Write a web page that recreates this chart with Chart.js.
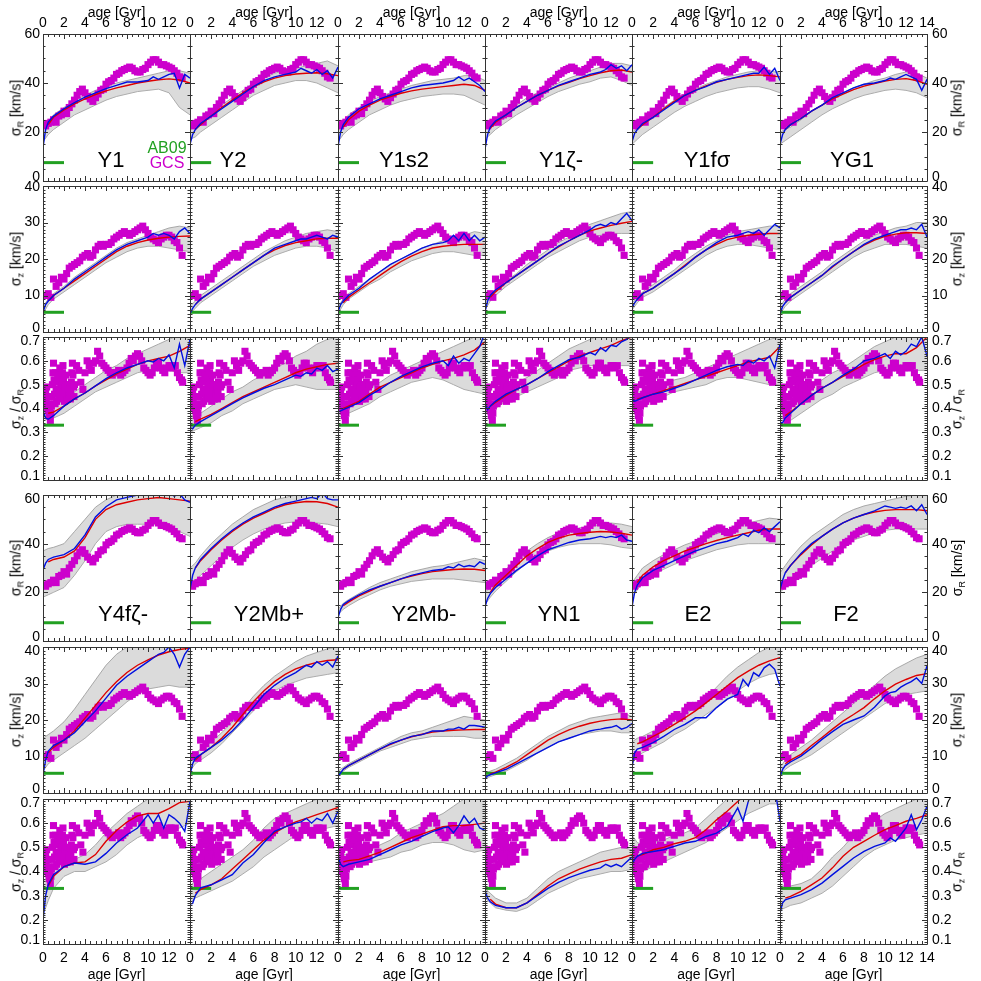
<!DOCTYPE html>
<html><head><meta charset="utf-8">
<script src="https://cdn.jsdelivr.net/npm/chart.js@4.4.0/dist/chart.umd.min.js"></script>
<style>
html,body{margin:0;padding:0;background:#fff;overflow:hidden;width:981px;height:981px;}
#wrap{position:relative;width:981px;height:981px;overflow:hidden;}
canvas{position:absolute;}
.t{position:absolute;font-family:"Liberation Sans",Arial,Helvetica,sans-serif;color:#000;white-space:nowrap;line-height:1;transform:translate(-50%,-50%);}
.rot{transform:translate(-50%,-50%) rotate(-90deg);}
.t sub{font-size:9px;vertical-align:-3px;}
</style></head>
<body><div id="wrap"></div>
<script>
// ---------------- DATA ----------------
const AGES = [0,0.5,1,2,3,4,5,6,7,8,9,10,11,12,13,14];
const BLUE_AGES = [0,0.25,0.5,1,2,3,4,5,6,7,8,9,10,10.5,11,11.5,12,12.5,13,13.5,14];
const X_TICKS = [0,2,4,6,8,10,12,14];
const Y_TICKS_SR = [0,20,40,60];
const Y_TICKS_SZ = [0,10,20,30,40];
const Y_TICKS_Q = [0.1,0.2,0.3,0.4,0.5,0.6,0.7];
const MODELS_TOP = ['Y1','Y2','Y1s2','Y1ζ-','Y1fσ','YG1'];
const MODELS_BOTTOM = ['Y4fζ-','Y2Mb+','Y2Mb-','YN1','E2','F2'];
const AB09_AGES = [0,2];
const AB09_VALUES = [7.5,5.4,0.33]; // sigma_R, sigma_z, ratio

const GCS_AGES = [0,0.25,0.5,0.75,1,1.25,1.5,1.75,2,2.25,2.5,2.75,3,3.25,3.5,3.75,4,4.25,4.5,4.75,5,5.25,5.5,5.75,6,6.25,6.5,6.75,7,7.25,7.5,7.75,8,8.25,8.5,8.75,9,9.25,9.5,9.75,10,10.25,10.5,10.75,11,11.25,11.5,11.75,12,12.25,12.5,12.75,13,13.25];
const GCS_SIGMA_R = [23,22.5,23.5,24,25,24,26.5,27,28.5,27.5,30,31.5,33,35,36.5,37.5,36,34.5,33.5,32.5,34,35.5,37,37.5,39.5,40.5,41,42,43.5,44,45,45.5,46,46.5,46,45,44.5,44.5,45.5,46,47.5,48.5,49.5,49.5,48.5,47.5,47.5,47,46.5,46,45,44,42.5,42];
const GCS_SIGMA_Z = [10,10,10.5,9.5,14.5,12.5,13.5,15,14.5,16,17.5,18,18.5,19,19.5,20.5,21,21.5,20.5,21,22.5,23.5,24,23.5,24,24,24.5,25.5,26,26.5,27,27.5,27,26.5,27,27.5,28,28.5,29,28,27,26,25.5,25,24.5,25.5,26,26.5,26.5,26,25,24.5,23,21];
const GCS_RATIO_AGES = [0,0.05,0.1,0.15,0.2,0.25,0.3,0.35,0.4,0.45,0.5,0.55,0.6,0.65,0.7,0.75,0.8,0.85,0.9,0.95,1.0,1.05,1.1,1.15,1.2,1.25,1.3,1.35,1.4,1.45,1.5,1.55,1.6,1.65,1.7,1.75,1.8,1.85,1.9,1.95,2.0,2.05,2.1,2.15,2.2,2.25,2.3,2.35,2.4,2.45,2.5,2.55,2.6,2.65,2.7,2.75,2.8,2.85,2.9,2.95,3.0,3.2,3.4,3.6,3.8,4.0,4.2,4.4,4.6,4.8,5.0,5.2,5.4,5.6,5.8,6.0,6.2,6.4,6.6,6.8,7.0,7.2,7.4,7.6,7.8,8.0,8.2,8.4,8.6,8.8,9.0,9.2,9.4,9.6,9.8,10.0,10.2,10.4,10.6,10.8,11.0,11.2,11.4,11.6,11.8,12.0,12.2,12.4,12.6,12.8,13.0,13.2,13.3];
const GCS_RATIO = [0.44,0.48,0.41,0.46,0.40,0.47,0.43,0.49,0.41,0.45,0.39,0.42,0.37,0.40,0.35,0.38,0.41,0.45,0.50,0.55,0.59,0.52,0.46,0.42,0.55,0.48,0.43,0.51,0.54,0.47,0.44,0.52,0.57,0.53,0.49,0.45,0.50,0.55,0.58,0.52,0.47,0.43,0.49,0.54,0.50,0.46,0.44,0.48,0.50,0.46,0.45,0.48,0.44,0.47,0.51,0.55,0.59,0.54,0.49,0.45,0.50,0.58,0.56,0.51,0.48,0.55,0.60,0.58,0.56,0.59,0.60,0.64,0.62,0.59,0.58,0.57,0.56,0.55,0.54,0.55,0.55,0.56,0.54,0.55,0.56,0.57,0.59,0.61,0.60,0.62,0.63,0.62,0.60,0.57,0.56,0.55,0.54,0.55,0.57,0.59,0.59,0.57,0.56,0.55,0.57,0.58,0.58,0.57,0.58,0.55,0.53,0.52,0.51];

// --- Y1 ---
const Y1_sR_red  = [null,23,26,29,31.5,33.5,35.3,36.8,38,39,40,40.7,41.3,41.7,41.2,40];
const Y1_sR_blue = [13.7,21,24,26.5,29.5,32,34.2,36,37.7,39,40.4,40.4,41,42.5,41.5,42.5,43.5,44,38,43.5,42];
const Y1_sR_lo   = [16,19,21,24,27,29,31,33,34.5,35.5,36.5,37,37.5,36,30,27];
const Y1_sR_hi   = [21,24,27,30,33,35,37,38.5,40,41,42,43,44,45,45,44];
const Y1_sZ_red  = [null,8.5,10,12,14,16,18,20,22,23.5,24.5,25.2,25.7,26,26.2,26.3];
const Y1_sZ_blue = [5.5,7.5,8.5,10,12,14.5,16.5,18.5,20.5,22.5,24,25,26,27,26.5,27,26.5,25.5,27.5,28.5,27];
const Y1_sZ_lo   = [5,7.5,9,11,13,15,17,19,20.5,22,23,23.5,23.5,23,22.5,22];
const Y1_sZ_hi   = [7,9,10.5,12.5,15,17,19,21,23,24.5,25.5,26.5,27.5,28.5,29,28.5];
const Y1_q_red   = [null,0.38,0.385,0.41,0.44,0.465,0.495,0.52,0.545,0.565,0.585,0.60,0.61,0.62,0.64,0.665];
const Y1_q_blue  = [0.39,0.36,0.355,0.37,0.41,0.44,0.465,0.495,0.525,0.55,0.57,0.585,0.60,0.595,0.61,0.60,0.625,0.57,0.67,0.58,0.69];
const Y1_q_lo    = [0.36,0.35,0.36,0.38,0.41,0.44,0.47,0.49,0.51,0.53,0.55,0.56,0.56,0.56,0.55,0.55];
const Y1_q_hi    = [0.42,0.40,0.41,0.44,0.47,0.50,0.53,0.56,0.58,0.61,0.63,0.65,0.67,0.69,0.71,0.72];
// --- Y2 ---
const Y2_sR_red  = [null,21,23,26.5,30,33,36,38.5,40.5,42,43,43.7,44,44.2,43.8,43];
const Y2_sR_blue = [15,19,21,23.5,26.5,29.5,32.5,35.5,38.5,41,42.5,43.5,44.5,46,45,44,45.5,43.5,45,42,46.5];
const Y2_sR_lo   = [17,18,20,23,26,29,32,35,37,39,40,41,41,40,38,36];
const Y2_sR_hi   = [21,22,24,28,31,34,37,40,42,44,45,46,47,48,49,47];
const Y2_sZ_red  = [null,7.5,9,11,13,15,17,19,21,22.5,23.7,24.5,25,25.5,25.7,25.7];
const Y2_sZ_blue = [5,6.5,7.5,9,11,13,15,17,19,21,23,24,25,25.5,25.5,26,26.5,26,25.5,26.5,26];
const Y2_sZ_lo   = [5,6.5,8,10,12,14,16,18,19.5,21,22,23,23.5,23.5,23,22];
const Y2_sZ_hi   = [7,8.5,10,12,14,16,18,20,22,23.5,25,26,27,27.5,28,27.5];
const Y2_q_red   = [null,0.345,0.355,0.375,0.40,0.425,0.45,0.47,0.49,0.51,0.53,0.55,0.565,0.575,0.585,0.59];
const Y2_q_blue  = [0.32,0.315,0.33,0.345,0.37,0.395,0.42,0.445,0.465,0.485,0.50,0.52,0.54,0.535,0.55,0.545,0.57,0.56,0.58,0.555,0.565];
const Y2_q_lo    = [0.30,0.31,0.32,0.34,0.37,0.39,0.42,0.44,0.46,0.48,0.49,0.50,0.49,0.48,0.48,0.48];
const Y2_q_hi    = [0.37,0.37,0.38,0.41,0.44,0.47,0.49,0.52,0.54,0.57,0.59,0.62,0.64,0.67,0.69,0.70];
// --- Y1s2 ---
const Y1s2_sR_red  = [null,22,25,28.5,31,33,34.5,35.8,36.8,37.5,38,38.5,39,39.5,39,37];
const Y1s2_sR_blue = [14,20,23,26,29.5,31.5,33.5,35,36.5,38,39,39.5,40,40.5,41,42.5,41,42,40.5,39,36.5];
const Y1s2_sR_lo   = [16,19,21,24,27,29,31,32.5,33.5,34.5,35,35.5,35.5,35,33,31];
const Y1s2_sR_hi   = [21,24,27,30,32.5,34.5,36,37.5,39,40,41,41.5,42,43,43,41];
const Y1s2_sZ_red  = [null,8,9.5,11.5,13.5,15.5,17.5,19.3,20.8,22,23,23.5,23.8,24,24,24];
const Y1s2_sZ_blue = [5.5,7.5,8.5,10,12,14.5,16.5,18.5,20,21.5,23,24,24.5,25,26.5,25,27,25,26.5,25,26];
const Y1s2_sZ_lo   = [5,7.5,9,11,13,14.5,16.5,18,19.5,20.5,21.5,22,22,21.5,21,21];
const Y1s2_sZ_hi   = [7,9,10.5,12.5,14.5,16.5,18.5,20,21.5,23,24,25,25.5,26.5,27.5,27];
const Y1s2_q_red   = [null,0.40,0.41,0.43,0.46,0.49,0.51,0.53,0.55,0.57,0.585,0.60,0.61,0.625,0.645,0.68];
const Y1s2_q_blue  = [0.385,0.39,0.395,0.405,0.425,0.455,0.48,0.51,0.535,0.555,0.575,0.59,0.60,0.58,0.62,0.59,0.61,0.60,0.63,0.66,0.72];
const Y1s2_q_lo    = [0.37,0.38,0.38,0.40,0.42,0.45,0.47,0.49,0.51,0.52,0.53,0.52,0.50,0.48,0.47,0.46];
const Y1s2_q_hi    = [0.42,0.42,0.43,0.45,0.48,0.51,0.54,0.56,0.58,0.60,0.62,0.64,0.66,0.68,0.70,0.72];
// --- Y1ζ- ---
const Y1z_sR_red  = [null,21.5,24,27,30,32.5,35,37,38.8,40.3,41.8,43,44.2,45,45.3,44.5];
const Y1z_sR_blue = [13,19,22,24.5,27,30,32.5,35,37,39,40.5,42,43.5,44,44.5,45.5,47.5,46,47,45,47.5];
const Y1z_sR_lo   = [17,19,21,24,27,29.5,32,34.5,36.5,38,39.5,40.5,42,42.5,41,39];
const Y1z_sR_hi   = [21,23,25,28,31,34,36,38,40,42,43.5,45,46.5,48,48,47];
const Y1z_sZ_red  = [null,9.5,11,13.5,15.5,17.5,19.5,21.5,23.3,25,26.5,27.7,28.5,29.2,29.8,30.3];
const Y1z_sZ_blue = [5.5,8.5,10,11.5,13.5,15.5,17.5,19.5,21.5,23.5,25,26.5,28,29,29.5,29,30,29.5,31,32.5,30.5];
const Y1z_sZ_lo   = [6,8.5,10,12.5,14.5,16.5,18.5,20.5,22,23.5,25,26,26.5,27,27,27];
const Y1z_sZ_hi   = [8,10,11.5,14,16,18.5,20.5,22.5,24.5,26,28,29.5,30.5,31.5,32.5,33];
const Y1z_q_red   = [null,0.41,0.425,0.455,0.48,0.50,0.525,0.55,0.575,0.60,0.62,0.635,0.65,0.665,0.685,0.70];
const Y1z_q_blue  = [0.42,0.395,0.41,0.43,0.46,0.48,0.50,0.525,0.555,0.58,0.605,0.615,0.635,0.625,0.655,0.64,0.665,0.66,0.68,0.69,0.71];
const Y1z_q_lo    = [0.38,0.39,0.40,0.43,0.45,0.47,0.49,0.51,0.53,0.56,0.57,0.58,0.58,0.58,0.58,0.58];
const Y1z_q_hi    = [0.44,0.44,0.46,0.48,0.51,0.53,0.56,0.59,0.62,0.65,0.67,0.69,0.71,0.72,0.72,0.72];
// --- Y1fσ ---
const Y1fs_sR_red  = [null,21,23,26,29.5,32.5,35,37,38.8,40.3,41.5,42.3,43,43.3,43,42.5];
const Y1fs_sR_blue = [16,19.5,21,23.5,26,29,32,35,37,38.5,40.5,41.5,42.5,43,43.5,44,44,46.5,43.5,46,41];
const Y1fs_sR_lo   = [15,17,19,22,25,28,30.5,32.5,34.5,36,37,38,38.5,38.5,37.5,36];
const Y1fs_sR_hi   = [20,21.5,23,27,30,33,35.5,37.5,39.5,41,42.5,43.5,44.5,45,45,44];
const Y1fs_sZ_red  = [null,9,10.5,12,14,16,18.3,20.5,22.5,24,25.3,26,26.5,26.8,27,27];
const Y1fs_sZ_blue = [6.5,8,9,10.5,12,14,16,18,20.5,22.5,24.5,26,26.5,27,27.5,27,28,26.5,28,29.5,28.5];
const Y1fs_sZ_lo   = [6,8,9.5,11,13,15,17,19,21,22.5,23.5,24,24,23.5,23,22.5];
const Y1fs_sZ_hi   = [8,9.5,11,13,15,17,19.5,21.5,23.5,25,26.5,27.5,28,28.5,29,29];
const Y1fs_q_red   = [null,0.44,0.445,0.46,0.475,0.49,0.505,0.52,0.535,0.55,0.565,0.58,0.595,0.605,0.615,0.66];
const Y1fs_q_blue  = [0.44,0.43,0.435,0.445,0.46,0.47,0.485,0.50,0.52,0.54,0.56,0.575,0.585,0.58,0.60,0.59,0.61,0.60,0.62,0.57,0.67];
const Y1fs_q_lo    = [0.42,0.42,0.43,0.44,0.45,0.47,0.48,0.49,0.50,0.52,0.53,0.53,0.52,0.51,0.50,0.50];
const Y1fs_q_hi    = [0.47,0.47,0.47,0.48,0.50,0.52,0.53,0.55,0.57,0.59,0.61,0.63,0.65,0.67,0.69,0.70];
// --- YG1 ---
const YG1_sR_red  = [null,21,23,25.5,28.5,31,33.5,35.5,37.3,38.7,39.8,40.8,41.5,41.8,41,39.5];
const YG1_sR_blue = [15,19,21,23,25.5,28.5,31,34,36,38,39.5,40,41,42,41.5,42.5,43.5,42.5,41.5,37,41.5];
const YG1_sR_lo   = [15,16.5,18,21,24,27,29.5,31.5,33.5,35,36,37,37.5,37,36,34];
const YG1_sR_hi   = [20,21,22,25,28.5,31,34,36,38,39.5,41,42,43.5,44.5,44,42];
const YG1_sZ_red  = [null,8,9.5,11.5,13.5,15.5,17.8,20,22,23.8,25.2,26.2,26.8,27.2,27.2,27];
const YG1_sZ_blue = [5,7,8,9.5,11.5,13.5,15.5,18,20,22,24,25.5,26.5,27,27.5,28,28,28.5,28,29.5,26];
const YG1_sZ_lo   = [5,7,8.5,10.5,12.5,14.5,16.5,18.5,20.5,22,23,24,24,24,23.5,23];
const YG1_sZ_hi   = [7,9,10.5,12.5,14.5,16.5,19,21,23,25,26.5,27.5,28.5,29,30,30];
const YG1_q_red   = [null,0.37,0.385,0.42,0.455,0.485,0.51,0.535,0.56,0.585,0.605,0.62,0.63,0.63,0.655,0.70];
const YG1_q_blue  = [0.34,0.34,0.36,0.38,0.42,0.455,0.485,0.51,0.54,0.565,0.60,0.61,0.63,0.61,0.64,0.625,0.64,0.67,0.66,0.70,0.62];
const YG1_q_lo    = [0.33,0.34,0.35,0.38,0.41,0.44,0.46,0.49,0.51,0.53,0.55,0.56,0.56,0.56,0.56,0.56];
const YG1_q_hi    = [0.41,0.41,0.42,0.45,0.49,0.52,0.55,0.57,0.60,0.63,0.66,0.68,0.70,0.71,0.72,0.72];
// --- Y4fζ- ---
const Y4fz_sR_red  = [null,32.5,33.5,34.5,37,42.5,50,54,56,57,58,58.5,59,58.5,58,57.5];
const Y4fz_sR_blue = [29.2,32,33.5,34.5,35.5,38,43.6,51,55.2,58,59,60,60.5,60,61,60,61,59.5,60.5,58,57];
const Y4fz_sR_lo   = [18,19,20,22,27,33,40,45,47,48,48,48,48,47,45,43];
const Y4fz_sR_hi   = [37,38,38.5,40,45,50,55,58,60,61,61,61,61,61,61,60];
const Y4fz_sZ_red  = [null,11,12.5,14.5,17,20.5,24,27.5,30.5,33,35,36.5,37.8,38.7,39.3,39.7];
const Y4fz_sZ_blue = [5,9,11.5,13,14.5,16.5,19.5,22.5,26,29.5,32,34,36,37,38,38.5,40,38,34.5,38,40];
const Y4fz_sZ_lo   = [6,8,9,11,13,15,17.5,20,22.5,25,27,28.5,29,29.5,29,29];
const Y4fz_sZ_hi   = [15,16,17,19.5,23,27,31,35,38,40,41,41,41,41,41,41];
const Y4fz_q_red   = [null,0.34,0.38,0.42,0.435,0.44,0.47,0.525,0.57,0.605,0.63,0.64,0.64,0.66,0.685,0.69];
const Y4fz_q_blue  = [0.20,0.30,0.345,0.387,0.42,0.435,0.43,0.44,0.475,0.518,0.552,0.58,0.635,0.60,0.635,0.58,0.635,0.62,0.60,0.566,0.69];
const Y4fz_q_lo    = [0.22,0.28,0.33,0.38,0.40,0.40,0.42,0.44,0.47,0.51,0.54,0.56,0.57,0.57,0.58,0.60];
const Y4fz_q_hi    = [0.36,0.38,0.41,0.44,0.45,0.47,0.51,0.56,0.60,0.64,0.67,0.70,0.72,0.72,0.72,0.72];
// --- Y2Mb+ ---
const Y2MbP_sR_red  = [null,30,33,37.5,41.5,45,48,50.5,52.5,54.5,56,56.8,57.3,57.2,56.5,55];
const Y2MbP_sR_blue = [21,27,30,33.5,38,42,45.5,48.5,51,53,55,56.5,57.5,58,58.5,59,58.5,61,58.5,58,58];
const Y2MbP_sR_lo   = [22,25,27,31,35,38.5,41.5,44,46,47.5,48.5,49,49,48.5,48,47];
const Y2MbP_sR_hi   = [30,32,35,40,44,48,51,54,56,58,59,60,61,61,61,61];
const Y2MbP_sZ_red  = [null,9,10.5,12.5,15,18,21.5,25,28,30.5,32.5,34,35,35.8,36.3,36.5];
const Y2MbP_sZ_blue = [5,8,9.5,10.5,12.5,14.5,17,20,23.5,27,29.5,31.5,33,34,35,34.5,36,35,36,34.5,37.5];
const Y2MbP_sZ_lo   = [6,8,9,11,13.5,16.5,19.5,22.5,25.5,28,29.5,30.5,31.5,32,32.5,33];
const Y2MbP_sZ_hi   = [10,11,12,14,16.5,19.5,23,26.5,29.5,32,34,36,37.5,38.5,39.5,40];
const Y2MbP_q_red   = [null,0.31,0.325,0.345,0.37,0.41,0.45,0.49,0.53,0.56,0.585,0.605,0.62,0.635,0.65,0.665];
const Y2MbP_q_blue  = [0.265,0.268,0.30,0.332,0.345,0.365,0.387,0.435,0.47,0.52,0.566,0.585,0.60,0.605,0.62,0.60,0.62,0.61,0.64,0.60,0.65];
const Y2MbP_q_lo    = [0.27,0.29,0.30,0.32,0.34,0.36,0.39,0.42,0.46,0.49,0.52,0.55,0.56,0.57,0.58,0.59];
const Y2MbP_q_hi    = [0.34,0.36,0.37,0.40,0.43,0.46,0.49,0.53,0.58,0.62,0.64,0.66,0.68,0.70,0.71,0.72];
// --- Y2Mb- ---
const Y2MbM_sR_red  = [null,14.5,16,18.5,20.5,22.5,24,25.5,26.7,27.7,28.5,29,29.4,29.6,29.5,29];
const Y2MbM_sR_blue = [9.5,13,15,16.5,19,21,22.5,24,25.5,27,28,29,29.5,30.5,30,31.5,30.5,31,30.5,32.5,31.5];
const Y2MbM_sR_lo   = [11,13,14.5,17,19,21,22.5,23.5,24.5,25,25.5,25.5,25.5,25,24.5,24];
const Y2MbM_sR_hi   = [13,15.5,17,19.5,22,24,25.5,27,28.5,29.5,30.5,31,32,33,34,33];
const Y2MbM_sZ_red  = [null,6.5,7.5,9,10.5,12,13.3,14.5,15.4,16.1,16.7,17,17.2,17.3,17.4,17.4];
const Y2MbM_sZ_blue = [4.5,5.5,6.5,7.5,9,10.5,12,13.5,14.5,15.5,16,17,17,17.5,17.5,18,17.5,18.5,18.5,18.3,18];
const Y2MbM_sZ_lo   = [5,6,7,8.5,10,11.5,12.5,13.5,14.5,15,15.5,15.5,15.5,15.5,15,15];
const Y2MbM_sZ_hi   = [6,7,8,9.5,11,12.5,14,15.5,16.5,17,18,19,20,21,20.5,20];
const Y2MbM_q_red   = [null,0.44,0.445,0.45,0.465,0.48,0.50,0.52,0.54,0.555,0.57,0.585,0.59,0.59,0.595,0.60];
const Y2MbM_q_blue  = [0.46,0.43,0.42,0.43,0.44,0.45,0.47,0.49,0.51,0.525,0.545,0.565,0.58,0.585,0.56,0.59,0.63,0.60,0.62,0.58,0.57];
const Y2MbM_q_lo    = [0.41,0.42,0.42,0.43,0.44,0.45,0.46,0.48,0.49,0.51,0.52,0.52,0.51,0.49,0.48,0.49];
const Y2MbM_q_hi    = [0.47,0.47,0.47,0.48,0.49,0.51,0.53,0.56,0.58,0.60,0.62,0.64,0.67,0.70,0.72,0.72];
// --- YN1 ---
const YN1_sR_red  = [null,20,23,27,31,35,38,40.5,42.3,43.5,44.2,44.7,45,44.8,44.3,43.5];
const YN1_sR_blue = [14,17.5,19.5,22,25.5,29,32,35,37.5,39,40.5,41.5,42,42.5,43,42.5,43,42.5,43.5,41.5,41];
const YN1_sR_lo   = [15,18,20.5,24.5,28.5,32,35,37,38.5,39.5,40,40,40,39.5,38.5,38];
const YN1_sR_hi   = [20,22,25,29.5,33.5,37,40,42.5,44.5,45.5,46.5,47,48,48.5,48,47];
const YN1_sZ_red  = [null,5.2,5.7,7,8.5,10.5,12.5,14.5,16,17.3,18.3,19.1,19.7,20.1,20.3,20];
const YN1_sZ_blue = [4,4.7,5,5.5,6.5,8,9.5,11,12.5,14,15,16,17,17.3,17.5,17.8,18,18.5,17.5,18,19];
const YN1_sZ_lo   = [4,4.5,5,6,7.5,9,11,12.5,14,15,16,16.5,17,17,16.5,16.5];
const YN1_sZ_hi   = [5.5,6,6.5,8,9.5,11.5,13.5,15.5,17,18.5,19.5,20.5,21,21.5,22,21];
const YN1_q_red   = [null,0.285,0.265,0.25,0.25,0.27,0.305,0.34,0.37,0.39,0.41,0.425,0.44,0.45,0.455,0.47];
const YN1_q_blue  = [0.32,0.29,0.275,0.26,0.25,0.25,0.27,0.30,0.33,0.355,0.375,0.39,0.405,0.41,0.415,0.43,0.42,0.43,0.42,0.44,0.46];
const YN1_q_lo    = [0.29,0.27,0.25,0.24,0.235,0.25,0.28,0.31,0.33,0.35,0.37,0.38,0.39,0.40,0.40,0.41];
const YN1_q_hi    = [0.33,0.31,0.29,0.27,0.27,0.29,0.33,0.37,0.40,0.42,0.44,0.46,0.48,0.49,0.50,0.49];
// --- E2 ---
const E2_sR_red  = [null,24,27,30.5,33,35,37,38.5,40,41.3,42.5,43.5,44.5,45.5,46,46];
const E2_sR_blue = [14,20,23,26,29,31,33,35,37,38.5,40,41,42.5,44,43,45.5,44.5,46.5,45,47,49];
const E2_sR_lo   = [18,21,24,27,29.5,31.5,33,34.5,36,37.5,38.5,39.5,40,40,40,40];
const E2_sR_hi   = [24,27,30,33,35.5,37.5,39.5,41,42.5,44,45.5,47,48.5,49.5,50.5,50];
const E2_sZ_red  = [null,13.5,14,15.5,17,18.8,20.6,22.5,24.7,27,29.3,31.6,33.4,35,36.2,37.1];
const E2_sZ_blue = [7,11,12,12.5,13.8,15.5,17.4,18.8,20.6,20.6,23.4,25.7,27,31.1,29.3,33,32,34.3,35.3,33.9,29.3];
const E2_sZ_lo   = [8,10,11,12.5,14,16,17.5,19.5,21.5,23.5,25.5,28,30,31.5,32.5,33];
const E2_sZ_hi   = [14,15,15.5,17,18.5,20,21.5,23.5,26,29,32,34.5,36.5,38.5,40,41];
const E2_q_red   = [null,0.465,0.47,0.49,0.50,0.515,0.525,0.54,0.573,0.614,0.649,0.69,0.73,0.76,0.79,0.82];
const E2_q_blue  = [0.43,0.45,0.463,0.475,0.483,0.49,0.504,0.518,0.525,0.545,0.559,0.587,0.663,0.608,0.69,0.75,0.75,0.75,0.75,0.75,0.608];
const E2_q_lo    = [0.40,0.40,0.40,0.42,0.44,0.46,0.48,0.50,0.52,0.55,0.58,0.61,0.64,0.66,0.68,0.68];
const E2_q_hi    = [0.55,0.52,0.51,0.52,0.53,0.55,0.56,0.58,0.62,0.66,0.70,0.72,0.72,0.72,0.72,0.72];
// --- F2 ---
const F2_sR_red  = [null,28,31,35.5,39.5,43,46,48.5,50.5,52,53,53.7,54,54,54,53.5];
const F2_sR_blue = [21,25,28,31,36,40,43,46,48.5,50.5,52,53.5,55.5,55,54.5,55,54.5,55.5,53.5,56,52];
const F2_sR_lo   = [20,22,24,28,31,34,37,39.5,41.5,43,44.5,45.5,46,46,46,46];
const F2_sR_hi   = [28,31,34,39,43,46,49,52,54,55.5,56.5,57.5,58.5,59.5,60,60];
const F2_sZ_red  = [null,8,9,10.6,13,15.2,17.5,19.7,21.5,23.4,25.8,28,29.8,31.1,32.2,32.7];
const F2_sZ_blue = [4.5,6.5,7.5,8.5,10.1,12.3,14.7,16.8,18.8,20,21.1,23.5,26.6,27.5,27.8,29,29.8,30.5,31.5,30,34.8];
const F2_sZ_lo   = [5,6.5,7.5,9,10.5,12.5,14.5,16.5,18.5,20.5,22.5,24.5,26,27,27.5,28];
const F2_sZ_hi   = [7,9,10.5,12.5,14.5,17,19.5,22,24.5,27,29.5,32,34,35.5,37,38];
const F2_q_red   = [null,0.29,0.297,0.318,0.345,0.373,0.415,0.463,0.50,0.525,0.55,0.573,0.59,0.608,0.62,0.635];
const F2_q_blue  = [0.228,0.27,0.283,0.29,0.304,0.325,0.352,0.387,0.421,0.456,0.483,0.504,0.518,0.539,0.525,0.552,0.58,0.635,0.573,0.614,0.67];
const F2_q_lo    = [0.24,0.25,0.26,0.27,0.29,0.31,0.34,0.38,0.42,0.46,0.49,0.51,0.53,0.54,0.55,0.56];
const F2_q_hi    = [0.34,0.34,0.34,0.35,0.37,0.41,0.46,0.50,0.55,0.58,0.61,0.64,0.66,0.68,0.70,0.72];

// ---------------- TABLES built from the arrays ----------------
const SERIES = {
  'Y1':   {sR:[Y1_sR_red,Y1_sR_blue,Y1_sR_lo,Y1_sR_hi], sZ:[Y1_sZ_red,Y1_sZ_blue,Y1_sZ_lo,Y1_sZ_hi], q:[Y1_q_red,Y1_q_blue,Y1_q_lo,Y1_q_hi]},
  'Y2':   {sR:[Y2_sR_red,Y2_sR_blue,Y2_sR_lo,Y2_sR_hi], sZ:[Y2_sZ_red,Y2_sZ_blue,Y2_sZ_lo,Y2_sZ_hi], q:[Y2_q_red,Y2_q_blue,Y2_q_lo,Y2_q_hi]},
  'Y1s2': {sR:[Y1s2_sR_red,Y1s2_sR_blue,Y1s2_sR_lo,Y1s2_sR_hi], sZ:[Y1s2_sZ_red,Y1s2_sZ_blue,Y1s2_sZ_lo,Y1s2_sZ_hi], q:[Y1s2_q_red,Y1s2_q_blue,Y1s2_q_lo,Y1s2_q_hi]},
  'Y1ζ-': {sR:[Y1z_sR_red,Y1z_sR_blue,Y1z_sR_lo,Y1z_sR_hi], sZ:[Y1z_sZ_red,Y1z_sZ_blue,Y1z_sZ_lo,Y1z_sZ_hi], q:[Y1z_q_red,Y1z_q_blue,Y1z_q_lo,Y1z_q_hi]},
  'Y1fσ': {sR:[Y1fs_sR_red,Y1fs_sR_blue,Y1fs_sR_lo,Y1fs_sR_hi], sZ:[Y1fs_sZ_red,Y1fs_sZ_blue,Y1fs_sZ_lo,Y1fs_sZ_hi], q:[Y1fs_q_red,Y1fs_q_blue,Y1fs_q_lo,Y1fs_q_hi]},
  'YG1':  {sR:[YG1_sR_red,YG1_sR_blue,YG1_sR_lo,YG1_sR_hi], sZ:[YG1_sZ_red,YG1_sZ_blue,YG1_sZ_lo,YG1_sZ_hi], q:[YG1_q_red,YG1_q_blue,YG1_q_lo,YG1_q_hi]},
  'Y4fζ-':{sR:[Y4fz_sR_red,Y4fz_sR_blue,Y4fz_sR_lo,Y4fz_sR_hi], sZ:[Y4fz_sZ_red,Y4fz_sZ_blue,Y4fz_sZ_lo,Y4fz_sZ_hi], q:[Y4fz_q_red,Y4fz_q_blue,Y4fz_q_lo,Y4fz_q_hi]},
  'Y2Mb+':{sR:[Y2MbP_sR_red,Y2MbP_sR_blue,Y2MbP_sR_lo,Y2MbP_sR_hi], sZ:[Y2MbP_sZ_red,Y2MbP_sZ_blue,Y2MbP_sZ_lo,Y2MbP_sZ_hi], q:[Y2MbP_q_red,Y2MbP_q_blue,Y2MbP_q_lo,Y2MbP_q_hi]},
  'Y2Mb-':{sR:[Y2MbM_sR_red,Y2MbM_sR_blue,Y2MbM_sR_lo,Y2MbM_sR_hi], sZ:[Y2MbM_sZ_red,Y2MbM_sZ_blue,Y2MbM_sZ_lo,Y2MbM_sZ_hi], q:[Y2MbM_q_red,Y2MbM_q_blue,Y2MbM_q_lo,Y2MbM_q_hi]},
  'YN1':  {sR:[YN1_sR_red,YN1_sR_blue,YN1_sR_lo,YN1_sR_hi], sZ:[YN1_sZ_red,YN1_sZ_blue,YN1_sZ_lo,YN1_sZ_hi], q:[YN1_q_red,YN1_q_blue,YN1_q_lo,YN1_q_hi]},
  'E2':   {sR:[E2_sR_red,E2_sR_blue,E2_sR_lo,E2_sR_hi], sZ:[E2_sZ_red,E2_sZ_blue,E2_sZ_lo,E2_sZ_hi], q:[E2_q_red,E2_q_blue,E2_q_lo,E2_q_hi]},
  'F2':   {sR:[F2_sR_red,F2_sR_blue,F2_sR_lo,F2_sR_hi], sZ:[F2_sZ_red,F2_sZ_blue,F2_sZ_lo,F2_sZ_hi], q:[F2_q_red,F2_q_blue,F2_q_lo,F2_q_hi]}
};
const QCFG = {
  sR:{min:0,max:60,minor:5,major:20,ticks:Y_TICKS_SR,gx:GCS_AGES,gy:GCS_SIGMA_R,ab:AB09_VALUES[0],dec:0,title:'σ<sub>R</sub> [km/s]'},
  sZ:{min:0,max:40,minor:1,major:10,ticks:Y_TICKS_SZ,gx:GCS_AGES,gy:GCS_SIGMA_Z,ab:AB09_VALUES[1],dec:0,title:'σ<sub>z</sub> [km/s]'},
  q: {min:0.1,max:0.7,minor:0.01,major:0.1,ticks:Y_TICKS_Q,gx:GCS_RATIO_AGES,gy:GCS_RATIO,ab:AB09_VALUES[2],dec:1,title:'σ<sub>z</sub> / σ<sub>R</sub>'}
};
const ROWS = [
  {models:MODELS_TOP,q:'sR'},{models:MODELS_TOP,q:'sZ'},{models:MODELS_TOP,q:'q'},
  {models:MODELS_BOTTOM,q:'sR'},{models:MODELS_BOTTOM,q:'sZ'},{models:MODELS_BOTTOM,q:'q'}
];

// ---------------- LAYOUT / STYLE ----------------
const COL_X = [43,190,338,485,632,780,927];
const ROW_Y = [[34,181],[186,332],[337,480],[495,641],[647,793],[799,944]];
const ML=43, MR=54, MT=34, MB=40;
const FONT = '"Liberation Sans", Arial, Helvetica, sans-serif';
const GRAY_LINE='rgba(150,150,150,0.8)', GRAY_FILL='rgba(175,175,175,0.45)';
const MAGENTA='#cc00cc', BLUE='#0010e0', RED='#dd0000', GREEN='#22a022';
const NAME_X_TOP=[68,43,66,76,75,72], NAME_X_BOT=[80,79,86,74,66,66];

Chart.defaults.font.family = FONT;

const frameTicks = {
  id:'frameTicks',
  afterDatasetsDraw(chart, args, o){
    const ctx = chart.ctx, a = chart.chartArea, xs = chart.scales.x, ys = chart.scales.y;
    ctx.save();
    ctx.strokeStyle = '#333'; ctx.lineWidth = 1;
    ctx.beginPath();
    for (let k=0;k<=28;k++){
      const px = Math.round(xs.getPixelForValue(k*0.5))+0.5;
      const len = (k%4===0)?5:3;
      ctx.moveTo(px,a.bottom); ctx.lineTo(px,a.bottom-len);
      ctx.moveTo(px,a.top); ctx.lineTo(px,a.top+len);
    }
    const n = Math.round((o.max-o.min)/o.minor), every = Math.round(o.major/o.minor);
    for (let k=0;k<=n;k++){
      const py = Math.round(ys.getPixelForValue(o.min+k*o.minor))+0.5;
      const len = (k%every===0)?5:2.5;
      ctx.moveTo(a.left,py); ctx.lineTo(a.left+len,py);
      ctx.moveTo(a.right,py); ctx.lineTo(a.right-len,py);
    }
    ctx.stroke();
    ctx.beginPath();
    ctx.rect(a.left+0.5, a.top+0.5, a.right-a.left, a.bottom-a.top);
    ctx.stroke();
    if (o.side){
      ctx.fillStyle='#000'; ctx.font = '14px '+FONT; ctx.textBaseline='middle';
      ctx.textAlign = o.side==='left'?'right':'left';
      const x = o.side==='left'? a.left-3 : a.right+5;
      o.ticks.forEach(v=>{
        let y = ys.getPixelForValue(v);
        if (Math.abs(y-a.bottom)<1) y -= 4;
        else if (Math.abs(y-a.top)<1) y += o.topShift;
        ctx.fillText(v.toFixed(o.dec), x, y);
      });
    }
    ctx.restore();
  }
};

function pts(xs, ys){ return xs.map((x,i)=>({x:x, y:ys[i]})); }

const wrap = document.getElementById('wrap');
function addText(html, x, y, size, color, rot){
  const d = document.createElement('div');
  d.className = 't' + (rot?' rot':'');
  d.style.left = x+'px'; d.style.top = y+'px';
  d.style.fontSize = size+'px'; d.style.color = color||'#000';
  d.innerHTML = html;
  wrap.appendChild(d);
}

ROWS.forEach((row, r)=>{
  const cfg = QCFG[row.q];
  const [top, bot] = ROW_Y[r];
  row.models.forEach((name, c)=>{
    const left = COL_X[c], pw = COL_X[c+1]-COL_X[c], ph = bot-top;
    const cv = document.createElement('canvas');
    const W = pw+ML+MR, H = ph+MT+MB;
    cv.width = W; cv.height = H;
    cv.style.left = (left-ML)+'px'; cv.style.top = (top-MT)+'px';
    cv.style.width = W+'px'; cv.style.height = H+'px';
    wrap.appendChild(cv);
    const [red, blue, lo, hi] = SERIES[name][row.q];
    const xTickCb = (v)=> (v===14 && c<5) ? '' : String(v);
    new Chart(cv, {
      type:'line',
      data:{datasets:[
        {label:'ensemble low', data:pts(AGES,lo), borderColor:GRAY_LINE, borderWidth:1, pointRadius:0, fill:false, order:6, clip:0, tension:0},
        {label:'ensemble high', data:pts(AGES,hi), borderColor:GRAY_LINE, borderWidth:1, pointRadius:0, fill:'-1', backgroundColor:GRAY_FILL, order:5, clip:0, tension:0},
        {label:'GCS', data:pts(cfg.gx,cfg.gy), showLine:false, pointStyle:'rect', pointRadius:5, pointBorderWidth:0, pointBackgroundColor:MAGENTA, borderColor:MAGENTA, backgroundColor:MAGENTA, order:4, clip:0},
        {label:'AB09', data:pts(AB09_AGES,[cfg.ab,cfg.ab]), borderColor:GREEN, borderWidth:3, pointRadius:0, order:3, clip:0},
        {label:'median', data:pts(AGES,red), borderColor:RED, borderWidth:1.4, pointRadius:0, order:2, clip:0, tension:0},
        {label:'model', data:pts(BLUE_AGES,blue), borderColor:BLUE, borderWidth:1.4, pointRadius:0, order:1, clip:0, tension:0}
      ]},
      options:{
        responsive:false, animation:false, devicePixelRatio:1, events:[],
        layout:{padding:0},
        plugins:{legend:{display:false}, tooltip:{enabled:false},
          frameTicks:{min:cfg.min,max:cfg.max,minor:cfg.minor,major:cfg.major,ticks:cfg.ticks,dec:cfg.dec,
                      side: c===0?'left':(c===5?'right':null), topShift:(r===0?0:(r===1?1:4))}},
        scales:{
          x:{type:'linear', position:'bottom', min:0, max:14,
             afterBuildTicks:(s)=>{ s.ticks = X_TICKS.map(v=>({value:v})); },
             ticks:{display:r===5, autoSkip:false, maxRotation:0, padding:6, color:'#000', font:{size:14}, callback:xTickCb},
             grid:{display:false, drawTicks:false}, border:{display:false},
             afterFit:(s)=>{ s.height = MB; }},
          xt:{type:'linear', position:'top', min:0, max:14,
             afterBuildTicks:(s)=>{ s.ticks = X_TICKS.map(v=>({value:v})); },
             ticks:{display:r===0, autoSkip:false, maxRotation:0, padding:2, color:'#000', font:{size:14}, callback:xTickCb},
             grid:{display:false, drawTicks:false}, border:{display:false},
             afterFit:(s)=>{ s.height = MT; }},
          y:{type:'linear', position:'left', min:cfg.min, max:cfg.max,
             ticks:{display:false}, grid:{display:false, drawTicks:false}, border:{display:false},
             afterFit:(s)=>{ s.width = ML; }},
          yr:{type:'linear', position:'right', min:cfg.min, max:cfg.max,
             ticks:{display:false}, grid:{display:false, drawTicks:false}, border:{display:false},
             afterFit:(s)=>{ s.width = MR; }}
        }
      },
      plugins:[frameTicks]
    });
    if (r===0) addText(name, left+NAME_X_TOP[c], 160, 22, '#000');
    if (r===3) addText(name, left+NAME_X_BOT[c], 614, 22, '#000');
    if (r===0 && c===0){
      addText('AB09', 167, 148, 16, GREEN);
      addText('GCS', 167, 163, 16, MAGENTA);
    }
    if (r===0) addText('age [Gyr]', left+pw/2, 12, 14, '#000');
    if (r===5) addText('age [Gyr]', left+pw/2, 974, 14, '#000');
  });
  addText(cfg.title, 17, (top+bot)/2, 14, '#000', true);
  addText(cfg.title, 958, (top+bot)/2, 14, '#000', true);
});
</script>
</body></html>
